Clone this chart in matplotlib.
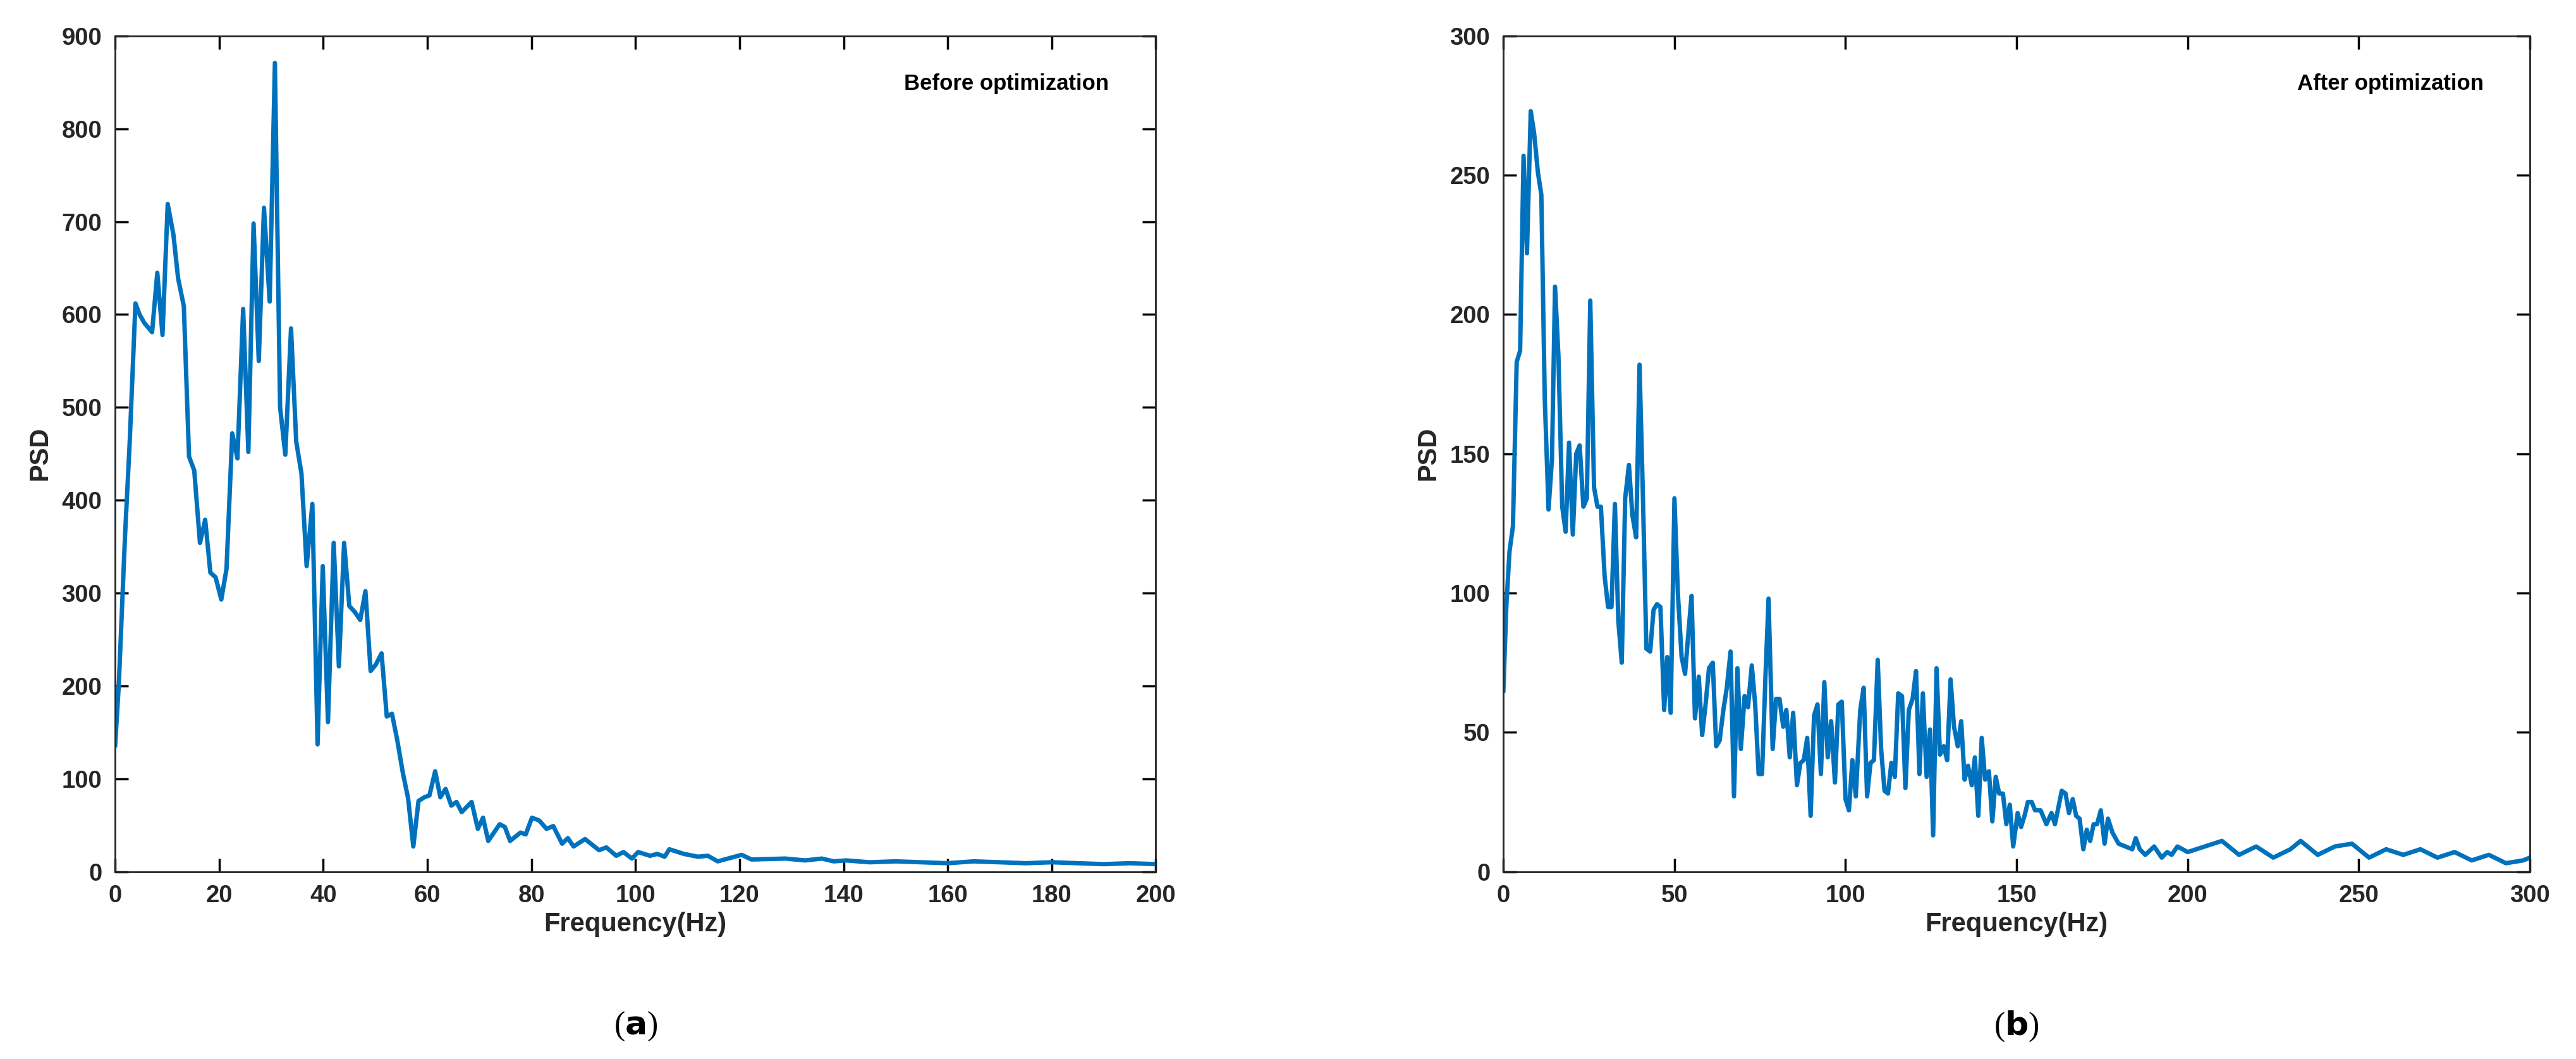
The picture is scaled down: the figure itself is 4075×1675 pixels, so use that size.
import matplotlib.pyplot as plt
import numpy as np

plt.rcParams["font.family"] = ["Liberation Sans", "DejaVu Sans"]

# (a) before optimization
freq_a = [0, 0.7, 1.9, 2.8, 3.9, 4.7, 5.6, 7.1, 8.1, 9.1, 10.1, 11.2, 12.1, 13.2, 14.2, 15.2,
          16.3, 17.3, 18.3, 19.3, 20.4, 21.4, 22.5, 23.5, 24.6, 25.6, 26.6, 27.6, 28.6, 29.7,
          30.7, 31.7, 32.7, 33.8, 34.8, 35.8, 36.8, 37.9, 38.9, 39.9, 40.9, 42.0, 43.0, 44.0,
          45.0, 46.0, 47.1, 48.1, 49.1, 50.1, 51.2, 52.2, 53.2, 54.2, 55.3, 56.3, 57.3, 58.3,
          59.4, 60.4, 61.5, 62.5, 63.5, 64.6, 65.6, 66.6, 68.5, 69.7, 70.7, 71.7, 73.9, 74.9,
          75.9, 77.9, 78.9, 80.1, 81.5, 82.9, 84.2, 85.9, 87.0, 88.1, 90.3, 93.0, 94.4, 96.3,
          97.7, 99.3, 100.5, 102.8, 104.2, 105.6, 106.5, 109.3, 112.0, 113.9, 115.8, 120.4,
          122.3, 128.8, 132.6, 135.8, 138.1, 140.5, 145, 150, 155, 160, 165, 170, 175, 180,
          185, 190, 195, 200]
psd_a = [136, 201, 362, 463, 612, 600, 591, 581, 645, 578, 719, 686, 639, 609, 447, 432,
         354, 379, 322, 317, 293, 326, 472, 445, 606, 452, 698, 550, 715, 614,
         871, 500, 449, 585, 463, 429, 329, 396, 137, 329, 161, 354, 221, 354,
         286, 280, 271, 302, 216, 223, 235, 167, 170, 142, 106, 79, 27, 76,
         80, 82, 108, 80, 89, 71, 75, 64, 75, 46, 58, 33, 51, 48,
         33, 42, 40, 58, 55, 46, 49, 30, 36, 27, 35, 23, 26, 17,
         21, 14, 21, 17, 19, 16, 24, 19, 16, 17, 11, 18,
         13, 14, 12, 14, 11, 12, 10, 11, 10, 9, 11, 10, 9, 10,
         9, 8, 9, 8]

# (b) after optimization
freq_b = [0, 0.9, 1.8, 2.8, 3.9, 4.9, 5.9, 6.9, 8.0, 9.0, 10.1, 11.1, 12.1, 13.2, 14.2, 15.1,
          16.1, 17.2, 18.2, 19.2, 20.3, 21.3, 22.3, 23.4, 24.4, 25.4, 26.5, 27.5, 28.5, 29.6,
          30.6, 31.6, 32.6, 33.6, 34.6, 35.6, 36.7, 37.7, 38.8, 39.8, 40.8, 41.8, 42.9, 43.9,
          44.9, 45.9, 47.0, 47.9, 48.9, 50.0, 51.0, 52.1, 53.1, 54.1, 55.0, 56.0, 57.1, 58.1,
          59.1, 60.1, 61.2, 62.2, 63.2, 64.3, 65.3, 66.4, 67.4, 68.4, 69.4, 70.5, 71.5, 72.6,
          73.6, 74.6, 75.6, 76.6, 77.5, 78.7, 79.7, 80.7, 81.8, 82.7, 83.7, 84.7, 85.8, 86.8,
          87.8, 88.8, 89.8, 90.8, 91.8, 92.8, 93.8, 94.8, 95.8, 96.9, 97.9, 98.9, 100.0, 101.0,
          102.0, 103.0, 104.3, 105.3, 106.3, 107.3, 108.3, 109.4, 110.4, 111.4, 112.4, 113.4,
          114.4, 115.4, 116.5, 117.5, 118.5, 119.6, 120.6, 121.6, 122.6, 123.7, 124.7, 125.6,
          126.6, 127.6, 128.7, 129.7, 130.7, 131.7, 132.8, 133.8, 134.8, 135.8, 136.9, 137.8,
          138.8, 139.8, 140.8, 141.9, 142.9, 143.9, 144.9, 146.0, 147.0, 148.0, 149.0, 150.3,
          151.3, 152.3, 153.3, 154.4, 155.4, 157.0, 158.7, 160.2, 161.2, 163.2, 164.3, 165.3,
          166.4, 167.4, 168.4, 169.5, 170.5, 171.5, 172.5, 173.5, 174.6, 175.7, 176.7, 178.0,
          179.8, 181.8, 183.8, 184.8, 186.0, 187.6, 190.2, 192.4, 194.0, 195.3, 197.0,
          200, 205, 210, 215, 220, 225, 230, 233, 238, 243, 248, 253, 258, 263, 268, 273,
          278, 283, 288, 293, 298, 300]
psd_b = [65, 96, 115, 124, 183, 187, 257, 222, 273, 265, 251, 243, 170, 130, 148, 210,
         185, 131, 122, 154, 121, 150, 153, 131, 134, 205, 138, 131, 131, 106,
         95, 95, 132, 90, 75, 134, 146, 128, 120, 182, 134, 80, 79, 94,
         96, 95, 58, 77, 57, 134, 100, 77, 71, 86, 99, 55, 70, 49,
         60, 73, 75, 45, 47, 58, 66, 79, 27, 73, 44, 63, 59, 74,
         60, 35, 35, 70, 98, 44, 62, 62, 52, 58, 41, 57, 31, 39,
         40, 48, 20, 56, 60, 35, 68, 41, 54, 32, 60, 61, 26, 22,
         40, 27, 58, 66, 27, 39, 40, 76, 44, 29, 28, 39,
         34, 64, 63, 30, 58, 62, 72, 35, 64, 34, 51, 13,
         73, 42, 45, 40, 69, 52, 45, 54, 33, 38, 31, 41,
         20, 48, 33, 36, 18, 34, 28, 28, 17, 24, 9, 21,
         16, 20, 25, 25, 22, 22, 17, 21, 17, 29, 28, 21,
         26, 20, 19, 8, 15, 11, 17, 17, 22, 10, 19, 14,
         10, 9, 8, 12, 8, 6, 9, 5, 7, 6, 9,
         7, 9, 11, 6, 9, 5, 8, 11, 6, 9, 10, 5, 8, 6, 8, 5,
         7, 4, 6, 3, 4, 5]

LINE_COLOR = "#0072BD"


def style_axes(ax, xmax, ymax, xstep, ystep, note, tag):
    ax.set_xlim(0, xmax)
    ax.set_ylim(0, ymax)
    ax.set_xticks(np.arange(0, xmax + 1, xstep))
    ax.set_yticks(np.arange(0, ymax + 1, ystep))
    ax.tick_params(direction="in", top=True, right=True, length=6, width=1.0,
                   labelsize=11, pad=6)
    for lab in ax.get_xticklabels() + ax.get_yticklabels():
        lab.set_fontweight("bold")
        lab.set_color("#262626")
    for s in ax.spines.values():
        s.set_linewidth(0.8)
        s.set_color("#262626")
    ax.set_xlabel("Frequency(Hz)", fontsize=12, fontweight="bold", color="#262626", labelpad=2)
    ax.set_ylabel("PSD", fontsize=12, fontweight="bold", color="#262626", labelpad=4)
    ax.text(0.955, 0.955, note, transform=ax.transAxes, ha="right", va="top",
            fontsize=10, fontweight="bold")
    ax.text(0.5, -0.185, tag, transform=ax.transAxes, ha="center", va="center",
            fontsize=15, family=["Liberation Serif", "DejaVu Serif"])


fig = plt.figure(figsize=(16.3, 6.7), dpi=250)
ax1 = fig.add_axes([0.0447, 0.177, 0.404, 0.789])
ax2 = fig.add_axes([0.5836, 0.177, 0.3985, 0.789])

ax1.plot(freq_a, psd_a, color=LINE_COLOR, linewidth=2)
ax2.plot(freq_b, psd_b, color=LINE_COLOR, linewidth=2)

style_axes(ax1, 200, 900, 20, 100, "Before optimization", r"($\bf{a}$)")
style_axes(ax2, 300, 300, 50, 50, "After optimization", r"($\bf{b}$)")

fig.savefig("out.png", dpi=250)
